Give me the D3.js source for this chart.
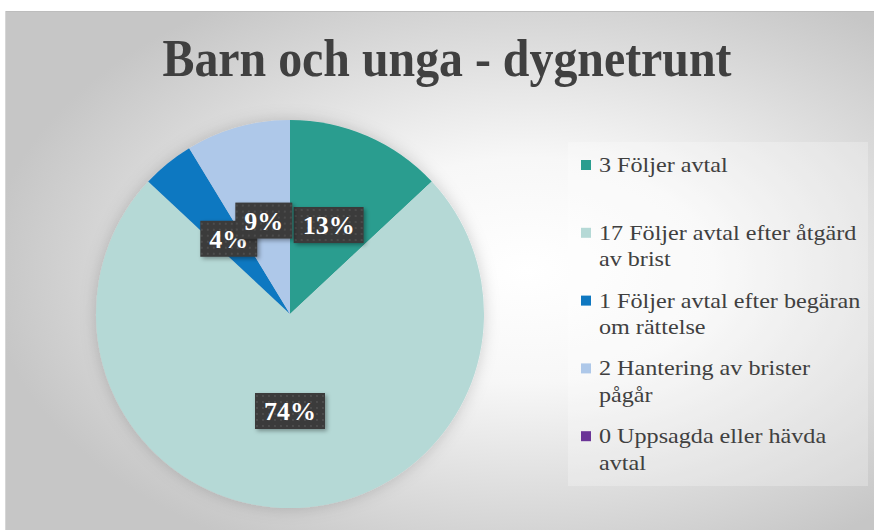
<!DOCTYPE html>
<html>
<head>
<meta charset="utf-8">
<script src="https://cdn.jsdelivr.net/npm/d3@7"></script>
<style>
    body { margin: 0; background: #fff; }
    svg { display: block; }
</style>
</head>
<body>
<svg width="874" height="532"></svg>
<script>
let title = "Barn och unga - dygnetrunt"
// "\n" marks where the legend wraps the label
let categories = ["Följer avtal", "Följer avtal efter åtgärd\nav brist", "Följer avtal efter begäran\nom rättelse", "Hantering av brister\npågår", "Uppsagda eller hävda\navtal"]
let values = [3, 17, 1, 2, 0]
let colors = ['#2a9d8f', '#b5d9d6', '#0f78c1', '#aec8e9', '#6b3597']

let svg = d3.select("svg"),
    width = +svg.attr("width"),
    height = +svg.attr("height")

let defs = svg.append("defs")

let bg = defs.append("radialGradient")
    .attr("id", "bg")
    .attr("cx", "0.6").attr("cy", "0.5").attr("r", "0.62")
bg.append("stop").attr("offset", "0").attr("stop-color", "#ffffff")
bg.append("stop").attr("offset", "0.35").attr("stop-color", "#f7f7f7")
bg.append("stop").attr("offset", "1").attr("stop-color", "#c6c6c6")

let dots = defs.append("pattern")
    .attr("id", "dots")
    .attr("width", 6).attr("height", 6)
    .attr("patternUnits", "userSpaceOnUse")
dots.append("rect").attr("width", 6).attr("height", 6).attr("fill", "#3a3a3a")
dots.append("circle").attr("cx", 3).attr("cy", 3).attr("r", 0.9).attr("fill", "#555")

let shadow = defs.append("filter").attr("id", "shadow")
    .attr("x", "-20%").attr("y", "-20%").attr("width", "140%").attr("height", "140%")
shadow.append("feDropShadow")
    .attr("dx", 2).attr("dy", 2).attr("stdDeviation", 2)
    .attr("flood-color", "#000").attr("flood-opacity", 0.35)

let glow = defs.append("filter").attr("id", "glow")
    .attr("x", "-20%").attr("y", "-20%").attr("width", "140%").attr("height", "140%")
glow.append("feDropShadow")
    .attr("dx", 0).attr("dy", 0).attr("stdDeviation", 8)
    .attr("flood-color", "#000").attr("flood-opacity", 0.18)

// frame
svg.append("rect")
    .attr("x", 5).attr("y", 11)
    .attr("width", width - 5).attr("height", 519)
    .attr("fill", "url(#bg)")
svg.append("line")
    .attr("x1", 5).attr("x2", width).attr("y1", 11.5).attr("y2", 11.5)
    .attr("stroke", "#bdbdbd")
svg.append("line")
    .attr("x1", 5.5).attr("x2", 5.5).attr("y1", 11).attr("y2", 530)
    .attr("stroke", "#d6d6d6")

svg.append("text")
    .attr("x", 447).attr("y", 76)
    .attr("text-anchor", "middle")
    .attr("textLength", 569)
    .attr("lengthAdjust", "spacingAndGlyphs")
    .style("font-family", "'Liberation Serif', 'Times New Roman', serif")
    .style("font-weight", "bold")
    .style("font-size", "53px")
    .style("fill", "#404040")
    .text(title)

// pie
let radius = 194
let total = d3.sum(values)

let pieGenerator = d3.pie().sort(null)
let arcData = pieGenerator(values)

let arcGenerator = d3.arc()
    .innerRadius(0)
    .outerRadius(radius)

let g = svg.append("g")
    .attr("transform", "translate(290, 314)")

g.append("g")
    .attr("filter", "url(#glow)")
    .selectAll("path")
    .data(arcData)
    .enter()
    .append("path")
    .attr("d", arcGenerator)
    .attr("fill", function (d, i) {
        return colors[i]
    })

let labels = g.selectAll("g.lbl")
    .data(arcData.filter(function (d) { return d.value > 0 }))
    .enter()
    .append("g")
    .attr("class", "lbl")
    .attr("transform", function (d) {
        let c = arcGenerator.centroid(d)
        return "translate(" + c[0] + "," + c[1] + ")"
    })

labels.append("rect")
    .attr("filter", "url(#shadow)")
    .attr("fill", "url(#dots)")
labels.append("text")
    .attr("text-anchor", "middle")
    .attr("dy", "0.35em")
    .style("font-family", "'Liberation Serif', 'Times New Roman', serif")
    .style("font-weight", "bold")
    .style("font-size", "26px")
    .style("fill", "#fff")
    .text(function (d) {
        return Math.round(d.value / total * 100) + "%"
    })
labels.each(function () {
    let w = d3.select(this).select("text").node().getComputedTextLength() + 18
    d3.select(this).select("rect")
        .attr("x", -w / 2).attr("y", -18)
        .attr("width", w).attr("height", 36)
})

// legend
svg.append("rect")
    .attr("x", 568).attr("y", 142)
    .attr("width", 300).attr("height", 344)
    .attr("fill", "#fff").attr("opacity", 0.25)

let stretch = 1.15

let legend = svg.selectAll("g.leg")
    .data(categories)
    .enter()
    .append("g")
    .attr("class", "leg")
    .attr("transform", function (d, i) {
        return "translate(581," + (172 + i * 67.8) + ")"
    })

legend.append("rect")
    .attr("x", 0).attr("y", -12)
    .attr("width", 10).attr("height", 10)
    .attr("fill", function (d, i) {
        return colors[i]
    })

legend.append("text")
    .attr("transform", "translate(18,0) scale(" + stretch + ",1)")
    .style("font-family", "'Liberation Serif', 'Times New Roman', serif")
    .style("font-size", "21px")
    .style("fill", "#404040")
    .selectAll("tspan")
    .data(function (d, i) {
        return (values[i] + " " + d).split("\n")
    })
    .enter()
    .append("tspan")
    .attr("x", 0)
    .attr("dy", function (d, i) {
        return i === 0 ? 0 : 26.5
    })
    .text(function (d) {
        return d
    })
</script>
</body>
</html>
